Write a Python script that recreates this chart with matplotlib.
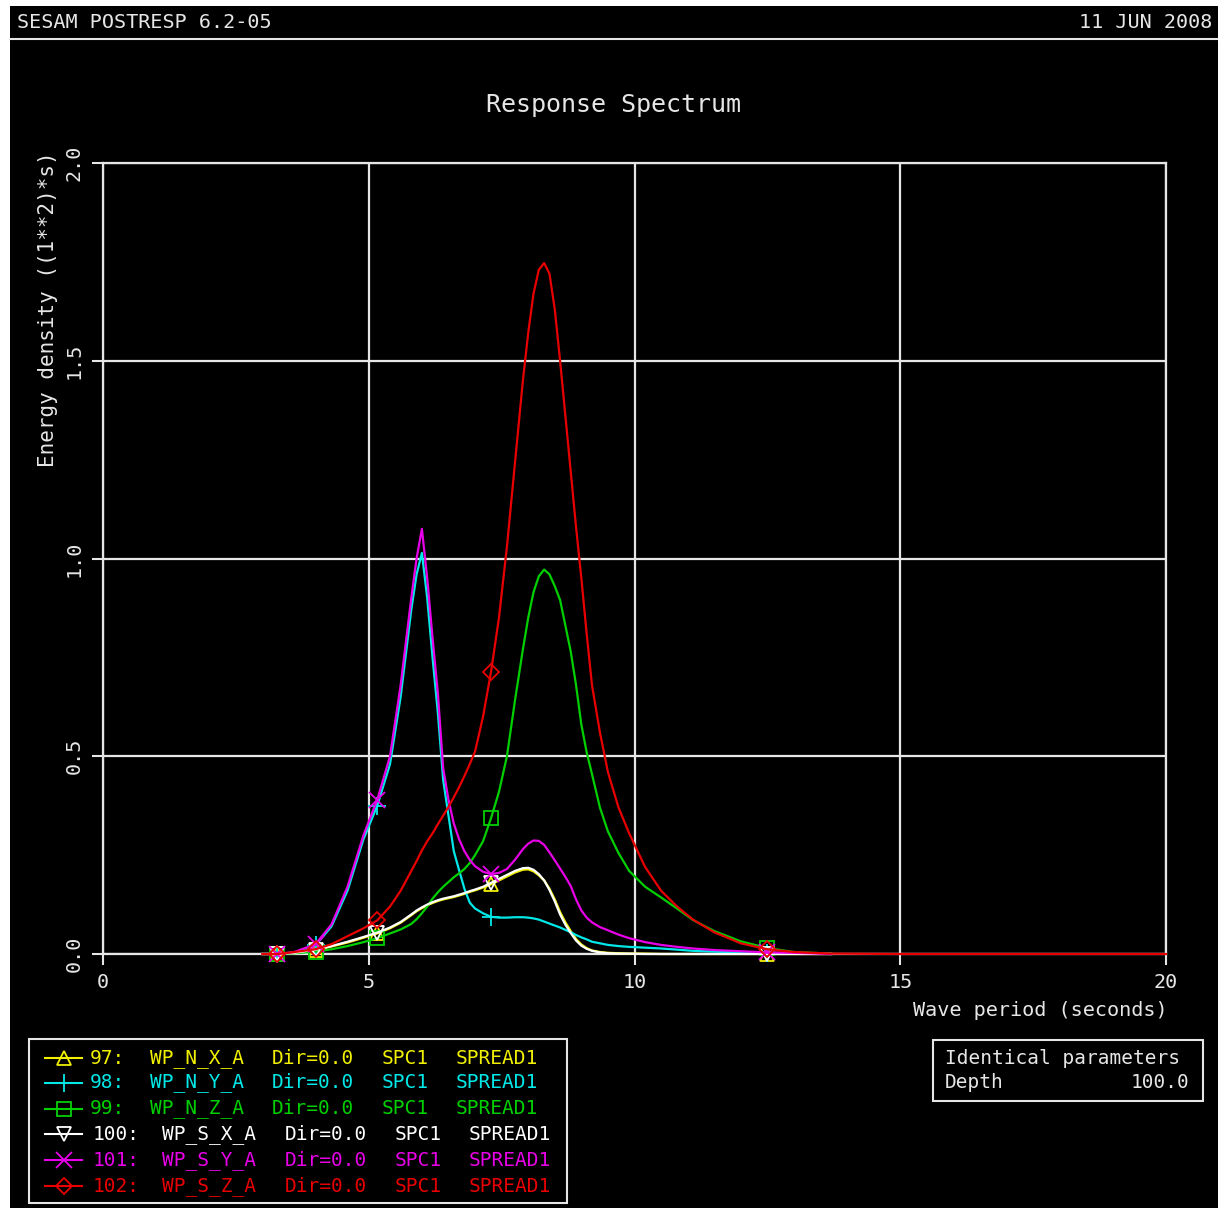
import matplotlib
matplotlib.use("Agg")
import matplotlib.pyplot as plt
from matplotlib.patches import Rectangle

periods = [3.0, 3.28, 3.6, 4.0, 4.3, 4.6, 4.9, 5.16, 5.4, 5.6,
           5.8, 5.9, 6.0, 6.1, 6.2, 6.3, 6.4, 6.5, 6.6, 6.7,
           6.8, 6.9, 7.0, 7.15, 7.3, 7.45, 7.6, 7.75, 7.9, 8.0,
           8.1, 8.2, 8.3, 8.4, 8.5, 8.6, 8.7, 8.8, 8.9, 9.0,
           9.1, 9.2, 9.35, 9.5, 9.7, 9.9, 10.2, 10.5, 10.8, 11.1,
           11.5, 12.0, 12.5, 13.0, 13.7]
marker_periods = [3.28, 4.0, 5.16, 7.3, 12.5]

wp_n_x = [0.0, 0.0, 0.003, 0.01, 0.019, 0.029, 0.041, 0.052, 0.065, 0.079,
          0.098, 0.108, 0.116, 0.123, 0.129, 0.134, 0.138, 0.141, 0.144, 0.148,
          0.152, 0.157, 0.161, 0.168, 0.176, 0.186, 0.196, 0.206, 0.213, 0.214,
          0.209, 0.199, 0.186, 0.165, 0.138, 0.106, 0.08, 0.058, 0.038, 0.024,
          0.015, 0.009, 0.005, 0.003, 0.002, 0.001, 0.001, 0.0, 0.0, 0.0,
          0.0, 0.0, 0.0, 0.0, 0.0]
wp_n_y = [0.0, 0.0, 0.004, 0.022, 0.07, 0.16, 0.29, 0.375, 0.48, 0.65,
          0.87, 0.96, 1.014, 0.9, 0.75, 0.61, 0.44, 0.35, 0.26, 0.212,
          0.165, 0.13, 0.115, 0.103, 0.094, 0.092, 0.092, 0.093, 0.093, 0.092,
          0.09, 0.087, 0.082, 0.077, 0.072, 0.067, 0.061, 0.055, 0.048, 0.042,
          0.037, 0.031, 0.027, 0.023, 0.02, 0.018, 0.016, 0.014, 0.011, 0.008,
          0.006, 0.004, 0.003, 0.002, 0.0]
wp_n_z = [0.0, 0.0, 0.002, 0.006, 0.012, 0.02, 0.03, 0.04, 0.052, 0.062,
          0.076, 0.088, 0.103, 0.12, 0.14, 0.156, 0.17, 0.182, 0.194, 0.204,
          0.215, 0.23, 0.25, 0.285, 0.343, 0.41, 0.5, 0.64, 0.77, 0.85,
          0.915, 0.955, 0.972, 0.96, 0.93, 0.895, 0.83, 0.765, 0.68, 0.58,
          0.51, 0.455, 0.37, 0.31, 0.255, 0.21, 0.17, 0.143, 0.115, 0.086,
          0.058, 0.032, 0.015, 0.005, 0.001]
wp_s_x = [0.0, 0.0, 0.003, 0.011, 0.02, 0.031, 0.043, 0.054, 0.067, 0.081,
          0.1, 0.11, 0.118, 0.125, 0.131, 0.136, 0.14, 0.143, 0.146, 0.15,
          0.154, 0.159, 0.163, 0.17, 0.18, 0.19, 0.2, 0.21, 0.217, 0.218,
          0.213, 0.202, 0.186, 0.162, 0.133, 0.1, 0.074, 0.053, 0.034, 0.021,
          0.013, 0.008, 0.004, 0.002, 0.001, 0.001, 0.0, 0.0, 0.0, 0.0,
          0.0, 0.0, 0.0, 0.0, 0.0]
wp_s_y = [0.0, 0.0, 0.005, 0.025, 0.075, 0.17, 0.3, 0.39, 0.5, 0.68,
          0.9, 1.0, 1.075, 0.95, 0.8, 0.66, 0.47, 0.39, 0.33, 0.29,
          0.26, 0.238, 0.222, 0.208, 0.202, 0.205, 0.215, 0.238, 0.265, 0.279,
          0.287, 0.286, 0.276, 0.257, 0.237, 0.216, 0.195, 0.172, 0.138, 0.11,
          0.092, 0.08, 0.068, 0.06, 0.049, 0.04, 0.03, 0.023, 0.018, 0.014,
          0.01, 0.007, 0.004, 0.003, 0.0]
wp_s_z = [0.0, 0.0, 0.005, 0.012, 0.025, 0.045, 0.065, 0.085, 0.12, 0.16,
          0.21, 0.235, 0.262, 0.285, 0.305, 0.328, 0.35, 0.372, 0.396, 0.422,
          0.45, 0.48, 0.512, 0.6, 0.713, 0.85, 1.03, 1.24, 1.45, 1.57,
          1.67, 1.73, 1.747, 1.72, 1.63, 1.5, 1.36, 1.22, 1.08, 0.95,
          0.81, 0.68, 0.56, 0.46, 0.37, 0.305, 0.22, 0.16, 0.12, 0.087,
          0.055, 0.027, 0.012, 0.005, 0.001]
# the red curve carries on along zero to the end of the axis
tail_periods = [15.0, 20.0]
tail_values = [0.0, 0.0]

ids = ["97:", "98:", "99:", "100:", "101:", "102:"]
names = ["WP_N_X_A", "WP_N_Y_A", "WP_N_Z_A", "WP_S_X_A", "WP_S_Y_A", "WP_S_Z_A"]
values = [wp_n_x, wp_n_y, wp_n_z, wp_s_x, wp_s_y, wp_s_z]
colors = ["#f0f000", "#00e8e8", "#00d000", "#ffffff", "#e800e8", "#e80000"]
markers = ["^", "+", "s", "v", "x", "D"]
msizes = [10, 13, 10, 10, 12, 8]

x_ticks = [0, 5, 10, 15, 20]
x_tick_labels = ["0", "5", "10", "15", "20"]
y_ticks = [0.0, 0.5, 1.0, 1.5, 2.0]
y_tick_labels = ["0.0", "0.5", "1.0", "1.5", "2.0"]

FONT = "DejaVu Sans Mono"
FG = "#e6e6e6"
W, H = 1218, 1211

fig = plt.figure(figsize=(W / 100, H / 100), dpi=100, facecolor="white")

# pixel-space overlay for the frame, header, labels and legend boxes
ov = fig.add_axes([0, 0, 1, 1], zorder=-1)
ov.set_xlim(0, W)
ov.set_ylim(H, 0)
ov.axis("off")
ov.add_patch(Rectangle((10, 6), W - 10, H - 9, facecolor="black", edgecolor="none"))
ov.plot([10, W], [39, 39], color=FG, lw=1.5)
ov.text(17, 22, "SESAM POSTRESP 6.2-05", color=FG, family=FONT, size=14.5,
        ha="left", va="center")
ov.text(1212, 22, "11 JUN 2008", color=FG, family=FONT, size=14.5,
        ha="right", va="center")
ov.text(614, 105, "Response Spectrum", color=FG, family=FONT, size=18,
        ha="center", va="center")
ov.text(48, 309, "Energy density ((1**2)*s)", color=FG, family=FONT, size=15,
        rotation=90, ha="center", va="center")
ov.text(1168, 1010, "Wave period (seconds)", color=FG, family=FONT, size=14.5,
        ha="right", va="center")

# main plot
ax = fig.add_axes([103 / W, 1 - 954 / H, 1063 / W, 791 / H])
ax.set_facecolor("black")
ax.set_xlim(0, 20)
ax.set_ylim(0, 2)
ax.set_xticks(x_ticks, labels=x_tick_labels)
ax.set_yticks(y_ticks, labels=y_tick_labels)
ax.grid(True, color=FG, lw=1.6)
ax.set_axisbelow(True)
for sp in ax.spines.values():
    sp.set_color(FG)
    sp.set_linewidth(1.6)
ax.tick_params(direction="out", length=8, width=1.5, color=FG, labelcolor=FG,
               labelsize=14.5, pad=6)
for lbl in ax.get_xticklabels() + ax.get_yticklabels():
    lbl.set_family(FONT)
for lbl in ax.get_yticklabels():
    lbl.set_rotation(90)
    lbl.set_va("center")

mark_idx = [periods.index(p) for p in marker_periods]
for i, (vals, c, m, ms) in enumerate(zip(values, colors, markers, msizes)):
    xs, ys = list(periods), list(vals)
    if i == 5:
        xs += tail_periods
        ys += tail_values
    ax.plot(xs, ys, color=c, lw=1.6, marker=m, markevery=mark_idx, ms=ms,
            mfc="none", mec=c, mew=1.3, clip_on=False, zorder=3 + i)

# legend box, drawn by hand like the original
ov.add_patch(Rectangle((29, 1039), 538, 164, facecolor="none", edgecolor=FG, lw=1.5))
row_y = [1058, 1083, 1109, 1134, 1160, 1186]
for i in range(6):
    y = row_y[i]
    c = colors[i]
    ov.plot([45, 82], [y, y], color=c, lw=1.5)
    ov.plot([64], [y], marker=markers[i], ms=msizes[i], mfc="none", mec=c, mew=1.3)
    if i < 3:
        xs = [90, 150, 272, 382, 456]
    else:
        xs = [93, 162, 285, 395, 469]
    tokens = [ids[i], names[i], "Dir=0.0", "SPC1", "SPREAD1"]
    for x, t in zip(xs, tokens):
        ov.text(x, y, t, color=c, family=FONT, size=14, ha="left", va="center")

# parameter box
ov.add_patch(Rectangle((933, 1040), 270, 61, facecolor="none", edgecolor=FG, lw=1.5))
ov.text(945, 1058, "Identical parameters", color=FG, family=FONT, size=14,
        ha="left", va="center")
ov.text(945, 1082, "Depth", color=FG, family=FONT, size=14, ha="left", va="center")
ov.text(1189, 1082, "100.0", color=FG, family=FONT, size=14, ha="right", va="center")

fig.savefig("out.png", dpi=100, facecolor=fig.get_facecolor())
